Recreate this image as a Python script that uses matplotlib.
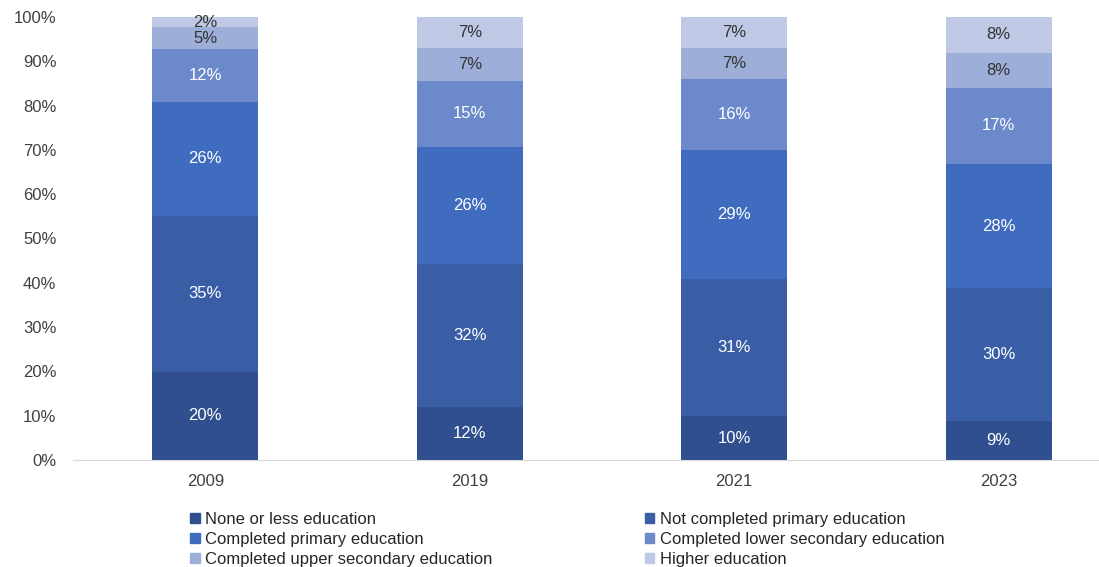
import numpy as np
import matplotlib.pyplot as plt
from matplotlib.patches import Patch

plt.rcParams['font.family'] = ['Liberation Sans', 'DejaVu Sans']

years = ["2009", "2019", "2021", "2023"]
categories = ["None or less education", "Not completed primary education",
              "Completed primary education", "Completed lower secondary education",
              "Completed upper secondary education", "Higher education"]
# share of each group per year (%)
none_less = [19.9, 12.0, 9.9, 8.8]
not_primary = [35.2, 32.2, 31.0, 30.0]
primary = [25.7, 26.5, 29.1, 28.0]
lower_sec = [12.0, 14.9, 16.0, 17.2]
upper_sec = [4.9, 7.4, 7.0, 7.9]
higher = [2.3, 7.0, 7.0, 8.1]
series = [none_less, not_primary, primary, lower_sec, upper_sec, higher]

colors = ["#2F4F8F", "#3A5EA6", "#3F6CBF", "#6C89CB", "#9DAED9", "#BFC9E5"]
txt_colors = ["white", "white", "white", "white", "#333333", "#333333"]

fig = plt.figure(figsize=(10.99, 5.67), dpi=100)
ax = fig.add_axes([73/1099, 1 - 460/567, (1131 - 73)/1099, (460 - 17)/567])

x = np.arange(len(years))
vals = np.array(series)
vals = vals / vals.sum(axis=0) * 100
bottom = np.zeros(len(years))
for i, (v, c) in enumerate(zip(vals, colors)):
    ax.bar(x, v, 0.4, bottom=bottom, color=c, label=categories[i])
    for xi, b, h, raw in zip(x, bottom, v, series[i]):
        ax.text(xi, b + h/2, f"{raw:.0f}%", ha="center", va="center",
                fontsize=12, color=txt_colors[i])
    bottom += v

ax.set_xlim(-0.5, 3.5)
ax.set_ylim(0, 100)
ax.set_yticks(np.arange(0, 101, 10))
ax.set_yticklabels([f"{t}%" for t in range(0, 101, 10)])
ax.set_xticks(x)
ax.set_xticklabels(years)
ax.tick_params(axis="both", length=0, labelsize=12, colors="#404040")
ax.tick_params(axis="x", pad=10)
ax.tick_params(axis="y", pad=12)
for s in ["top", "right", "left"]:
    ax.spines[s].set_visible(False)
ax.spines["bottom"].set_color("#D9D9D9")

# legend is filled row by row in the reference
order = [0, 2, 4, 1, 3, 5]
handles = [Patch(color=colors[k]) for k in order]
fig.legend(handles, [categories[k] for k in order], loc="upper left",
           bbox_to_anchor=(182/1099, 1 - 504/567),
           ncol=2, frameon=False, fontsize=12, handlelength=0.55, handleheight=0.55,
           handletextpad=0.35, labelspacing=0.3, columnspacing=9.15, borderpad=0,
           labelcolor="#262626")

fig.savefig("out.png", dpi=100)
